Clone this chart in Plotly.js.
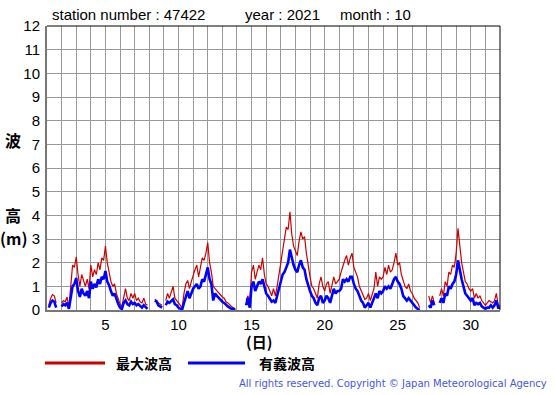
<!DOCTYPE html>
<html><head><meta charset="utf-8">
<script src="https://cdn.plot.ly/plotly-3.0.1.min.js"></script>
<style>body{margin:0;background:#fff}#c{width:555px;height:395px}</style>
</head><body><div id="c"></div>
<script>
// time step: 3 hours (8 values per day), starting at day 1.0
var startDay = 1;
var stepsPerDay = 8;
// significant wave height (m), per day rows
var sigWave = [
 null,0.1,0.3,0.4,0.35,0.1,null,null,
 0.15,0.25,0.2,0.3,0.05,0.5,1.0,1.1,
 1.35,0.8,0.55,0.9,0.7,0.6,0.8,0.5,
 1.2,0.9,1.1,0.95,1.3,1.1,1.4,1.3,
 1.65,1.2,1.05,0.8,0.6,0.7,0.45,0.25,
 0.1,0.05,0.3,0.4,0.25,0.2,0.35,0.25,
 0.3,0.2,0.25,0.15,0.1,0.2,0.1,0.05,
 null,null,null,0.4,0.35,0.2,0.15,0.1,
 null,0.2,0.35,0.3,0.4,0.45,0.25,0.2,
 0.1,0.05,0.02,0.3,0.55,0.8,0.5,0.7,
 0.9,1.0,1.1,0.9,1.0,1.3,1.2,1.5,
 1.8,1.3,1.1,0.4,0.7,0.6,0.5,0.4,
 0.35,0.3,0.2,0.15,0.1,0.05,0.05,0.0,
 null,null,null,null,null,0.2,0.5,0.1,
 1.0,1.2,0.8,1.0,1.2,1.1,1.3,1.0,
 0.7,0.6,0.5,0.35,0.4,0.3,0.6,0.9,
 1.3,1.5,1.6,1.8,2.0,2.55,2.2,1.9,
 1.7,1.6,1.9,2.1,1.8,1.7,1.3,1.0,
 0.8,0.6,0.5,0.3,0.2,0.5,0.6,0.3,
 0.4,0.6,0.5,0.3,0.6,0.9,0.7,0.8,
 0.8,0.9,1.3,1.2,1.3,1.2,1.4,1.4,
 1.1,0.9,0.8,0.6,0.4,0.3,0.1,0.2,
 0.3,0.1,0.3,0.5,0.7,0.5,0.8,0.7,
 0.8,1.0,0.9,1.0,0.9,1.1,1.3,1.4,
 1.2,1.1,0.9,0.6,0.5,0.4,0.5,0.4,
 0.3,0.15,0.1,0.05,0.0,null,0.0,null,
 null,0.2,0.1,0.4,0.2,null,null,0.3,
 0.5,0.3,0.7,0.6,1.0,0.9,1.1,1.2,
 1.5,2.1,1.6,1.3,1.0,0.7,0.6,0.5,
 0.4,0.5,0.2,0.3,0.25,0.3,0.15,0.1,
 0.05,0.1,0.1,0.2,0.1,0.2,0.4,0.1,
 0.1
];
// maximum wave height (m)
var maxWave = [
 null,0.2,0.5,0.65,0.6,0.3,null,null,
 0.3,0.4,0.35,0.55,0.1,1.0,1.9,1.8,
 2.25,1.5,1.0,1.5,1.2,1.0,1.3,0.9,
 1.9,1.4,1.7,1.5,2.0,1.7,2.2,2.1,
 2.7,2.0,1.6,1.2,1.0,1.1,0.7,0.45,
 0.25,0.15,0.6,0.9,0.5,0.4,0.7,0.5,
 0.7,0.4,0.5,0.35,0.3,0.5,0.25,0.2,
 null,null,null,0.45,0.4,0.3,0.25,0.2,
 null,0.4,0.7,0.5,0.8,1.0,0.5,0.4,
 0.3,0.2,0.1,0.7,1.1,1.25,0.9,1.2,
 1.5,1.7,1.9,1.4,1.8,2.2,2.1,2.4,
 2.85,2.0,1.6,1.0,0.9,0.8,0.7,0.6,
 0.55,0.5,0.35,0.3,0.2,0.15,0.1,0.05,
 null,null,null,null,null,0.4,0.6,0.3,
 1.6,1.9,1.3,1.6,1.9,1.7,2.2,1.5,
 1.1,1.0,0.8,0.6,0.9,0.6,1.0,1.5,
 2.2,2.6,3.2,3.5,3.4,4.15,3.2,2.7,
 2.5,2.3,2.9,3.3,3.0,3.1,2.4,1.8,
 1.4,1.0,0.9,0.7,0.5,1.1,1.4,1.0,
 0.8,1.1,1.2,0.7,1.1,1.4,1.1,1.2,
 1.3,1.6,1.9,2.1,2.3,1.9,2.2,2.4,
 1.8,1.6,1.4,1.0,0.8,0.6,0.45,0.5,
 0.7,0.4,0.7,0.9,1.6,1.0,1.4,1.3,
 1.4,1.8,1.5,1.9,1.6,1.7,2.0,2.4,
 1.9,2.0,1.5,1.2,1.0,0.9,1.1,0.8,
 0.7,0.5,0.4,0.3,0.1,null,0.7,null,
 null,0.6,0.3,0.6,0.3,null,null,0.6,
 0.9,0.6,1.2,1.0,1.6,1.5,1.9,1.8,
 2.4,3.45,2.6,2.0,1.6,1.2,1.1,0.9,
 0.8,0.9,0.5,0.7,0.5,0.6,0.4,0.3,
 0.2,0.3,0.4,0.35,0.3,0.4,0.7,0.2,
 0.2
];
var dayTicks = [];
var dayTickText = [];
for (var d = 1; d <= 32; d++) { dayTicks.push(d); dayTickText.push(d % 5 === 0 ? String(d) : ''); }
var seriesNames = ['最大波高', '有義波高'];

var times = maxWave.map(function(_, i){ return startDay + i / stepsPerDay; });

var traces = [
  {x: times, y: maxWave, type: 'scatter', mode: 'lines', name: seriesNames[0],
   line: {color: 'rgb(204,0,0)', width: 1.2}, connectgaps: false},
  {x: times, y: sigWave, type: 'scatter', mode: 'lines', name: seriesNames[1],
   line: {color: 'rgb(0,0,255)', width: 2.6}, connectgaps: false}
];

var L = 47, R = 500, T = 26, B = 310;
function px(x){ return (x - L) / (R - L); }
function py(y){ return (B - y) / (B - T); }
var font = 'Liberation Sans, Arial, sans-serif';
var cjk = 'Noto Sans CJK JP, sans-serif';

var layout = {
  width: 555, height: 395,
  margin: {l: L, r: 555 - R, t: T, b: 395 - B},
  paper_bgcolor: '#fff', plot_bgcolor: '#fff',
  showlegend: false,
  xaxis: {range: [1, 32], tickvals: dayTicks, ticktext: dayTickText,
    showgrid: true, gridcolor: '#999', gridwidth: 1, zeroline: false,
    showline: true, linecolor: '#777', linewidth: 2, ticks: '',
    tickfont: {family: font, size: 15, color: '#000'}, fixedrange: true},
  yaxis: {range: [0, 12], dtick: 1, tick0: 0,
    showgrid: true, gridcolor: '#999', gridwidth: 1, zeroline: false,
    showline: true, linecolor: '#777', linewidth: 2, ticks: '', ticklabelstandoff: 2,
    tickfont: {family: font, size: 15, color: '#000'}, fixedrange: true},
  shapes: [
    {type: 'line', xref: 'paper', yref: 'paper', x0: 0, x1: 1, y0: 1, y1: 1, line: {color: '#000', width: 1}},
    {type: 'line', xref: 'paper', yref: 'paper', x0: 1, x1: 1, y0: 0, y1: 1, line: {color: '#000', width: 1}},
    {type: 'line', xref: 'paper', yref: 'paper', x0: px(45), x1: px(105), y0: py(363), y1: py(363), line: {color: 'rgb(204,0,0)', width: 3}},
    {type: 'line', xref: 'paper', yref: 'paper', x0: px(188), x1: px(245), y0: py(363), y1: py(363), line: {color: 'rgb(0,0,255)', width: 3}}
  ],
  annotations: [
    {text: 'station number : 47422', x: px(50), y: py(15), xref: 'paper', yref: 'paper', xanchor: 'left', yanchor: 'middle', showarrow: false, font: {family: font, size: 15, color: '#000'}},
    {text: 'year : 2021', x: px(243), y: py(15), xref: 'paper', yref: 'paper', xanchor: 'left', yanchor: 'middle', showarrow: false, font: {family: font, size: 15, color: '#000'}},
    {text: 'month : 10', x: px(338), y: py(15), xref: 'paper', yref: 'paper', xanchor: 'left', yanchor: 'middle', showarrow: false, font: {family: font, size: 15, color: '#000'}},
    {text: '<b>波</b>', x: px(13), y: py(140), xref: 'paper', yref: 'paper', xanchor: 'center', yanchor: 'middle', showarrow: false, font: {family: cjk, size: 16, color: '#000'}},
    {text: '<b>高</b>', x: px(13), y: py(215), xref: 'paper', yref: 'paper', xanchor: 'center', yanchor: 'middle', showarrow: false, font: {family: cjk, size: 16, color: '#000'}},
    {text: '<b>(m)</b>', x: px(14), y: py(238), xref: 'paper', yref: 'paper', xanchor: 'center', yanchor: 'middle', showarrow: false, font: {family: cjk, size: 16, color: '#000'}},
    {text: '<b>(日)</b>', x: px(259), y: py(341), xref: 'paper', yref: 'paper', xanchor: 'center', yanchor: 'middle', showarrow: false, font: {family: cjk, size: 15, color: '#000'}},
    {text: '<b>' + seriesNames[0] + '</b>', x: px(114), y: py(363), xref: 'paper', yref: 'paper', xanchor: 'left', yanchor: 'middle', showarrow: false, font: {family: cjk, size: 14, color: '#000'}},
    {text: '<b>' + seriesNames[1] + '</b>', x: px(257), y: py(363), xref: 'paper', yref: 'paper', xanchor: 'left', yanchor: 'middle', showarrow: false, font: {family: cjk, size: 14, color: '#000'}},
    {text: 'All rights reserved. Copyright © Japan Meteorological Agency', x: px(549), y: py(384), xref: 'paper', yref: 'paper', xanchor: 'right', yanchor: 'middle', showarrow: false, font: {family: 'DejaVu Sans, sans-serif', size: 10, color: '#4455ee'}}
  ]
};
Plotly.newPlot('c', traces, layout, {staticPlot: true, displayModeBar: false});
</script></body></html>
